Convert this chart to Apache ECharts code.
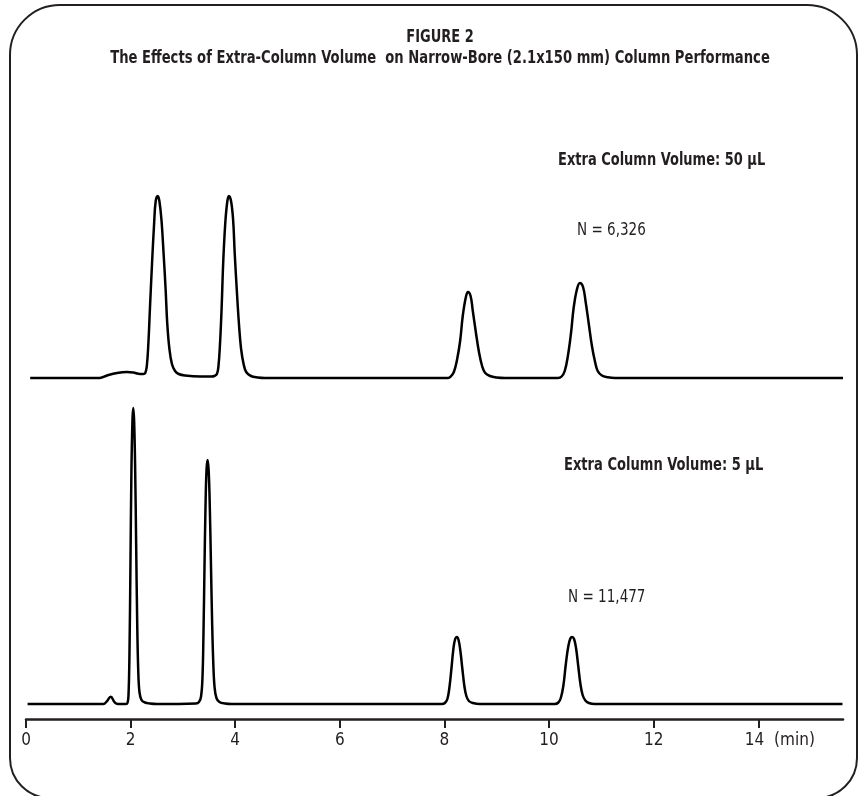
<!DOCTYPE html>
<html><head><meta charset="utf-8">
<script src="https://cdn.jsdelivr.net/npm/echarts@6/dist/echarts.min.js"></script>
<style>html,body{margin:0;padding:0;background:#fff}#c{width:860px;height:796px}</style>
</head><body><div id="c"></div>
<script>
// ---- texts ----
const titleText = 'FIGURE 2';
const subtitleText = 'The Effects of Extra-Column Volume  on Narrow-Bore (2.1x150 mm) Column Performance';
const topLabel = 'Extra Column Volume: 50 µL';
const topN = 'N = 6,326';
const bottomLabel = 'Extra Column Volume: 5 µL';
const bottomN = 'N = 11,477';
const xTicks = [0, 2, 4, 6, 8, 10, 12, 14];
const xUnit = '(min)';
const xMin = 0, xMax = 15.62;

// ---- trace 1: extra column volume 50 µL (time in min, detector signal, arbitrary units) ----
const timeTop = [0.08,1.41,1.55,1.74,1.93,2.05,2.18,2.24,
  2.28,2.31,2.34,2.37,2.41,2.45,2.48,2.52,2.55,2.59,2.63,2.67,2.70,2.74,2.79,2.85,2.92,3.04,3.33,3.55,
  3.60,3.65,3.68,3.71,3.74,3.77,3.81,3.85,3.88,3.92,3.96,3.99,4.03,4.07,4.11,4.16,4.21,4.30,4.43,4.57,
  8.07,8.12,8.18,8.24,8.30,8.35,8.41,8.45,8.50,8.54,8.60,8.66,8.72,8.78,8.87,9.00,9.16,
  10.17,10.24,10.30,10.36,10.42,10.47,10.53,10.59,10.65,10.70,10.76,10.82,10.88,10.93,11.01,11.12,11.26,15.62];
const signalTop = [0,0,2.5,5,6,5.5,4,4,
  5,12,35,70,115,155,177,182,177,158,125,88,55,30,14,7,4,2.5,1.5,1.5,
  2,4,12,35,70,115,155,177,182,177,158,125,88,55,30,14,6,2,0.5,0,
  0,1.5,6,18,37,62,81,86,82,68,46,26,12,5,2,0.5,0,
  0,1.5,7,22,45,70,88,95,91,76,54,32,16,7,2.5,0.8,0,0];

// ---- trace 2: extra column volume 5 µL ----
const timeBottom = [0.03,1.48,1.54,1.62,1.70,1.76,
  1.911,1.940,1.959,1.978,1.997,2.016,2.036,2.051,2.068,2.087,2.106,2.125,2.145,2.169,2.208,2.274,2.370,2.504,
  3.249,3.307,3.345,3.373,3.393,3.412,3.431,3.452,3.473,3.494,3.515,3.536,3.557,3.580,3.605,3.641,3.698,3.803,3.937,
  7.951,8.008,8.056,8.094,8.133,8.171,8.205,8.238,8.270,8.305,8.343,8.381,8.419,8.467,8.544,8.677,
  10.111,10.178,10.225,10.273,10.321,10.369,10.407,10.441,10.478,10.516,10.558,10.600,10.642,10.694,10.761,10.875,15.61];
const signalBottom = [0,0,2.3,7.3,1.3,0,
  0,1,8,50,140,235,285,296,282,235,160,85,35,12,4,1.5,0.5,0,
  0.5,2,7,25,70,135,195,235,244,232,195,140,85,42,17,6,2,0.5,0,
  0,1,5,16,35,55,65,67,64,53,35,18,8,3,1,0,
  0,1.5,6,18,40,58,65.5,67,65,56,38,20,9,3.5,1,0,0];

const zip = (a, b) => a.map((v, i) => [v, b[i]]);
const FONT = "'Liberation Sans Narrow','DejaVu Sans Condensed','Roboto Condensed','Arial Narrow',sans-serif";
const INK = '#231f20';

function label(text, x, y, opts) {
  const align = opts.align || 'left';
  return {
    type: 'text', silent: true, x: x, y: y, scaleX: opts.scaleX || 0.85, scaleY: 1,
    style: {
      text: text, fill: INK, fontFamily: FONT, fontSize: 17,
      fontWeight: opts.bold ? 'bold' : 'normal',
      align: align, verticalAlign: 'middle', textAlign: align, textVerticalAlign: 'middle'
    }
  };
}

const chart = echarts.init(document.getElementById('c'), null, {renderer: 'canvas'});
const lineStyle = {color: '#000', width: 2.5};

chart.setOption({
  animation: false,
  backgroundColor: '#fff',
  graphic: [
    {
      type: 'rect', silent: true,
      shape: {x: 10, y: 5, width: 847, height: 793, r: [50, 50, 40, 40]},
      style: {fill: 'none', stroke: INK, lineWidth: 2}
    },
    label(titleText, 440, 38, {bold: true, align: 'center', scaleX: 0.85}),
    label(subtitleText, 440, 59, {bold: true, align: 'center', scaleX: 0.86}),
    label(topLabel, 558, 161, {bold: true, scaleX: 0.85}),
    label(topN, 577, 231, {scaleX: 0.885}),
    label(bottomLabel, 564, 466, {bold: true, scaleX: 0.855}),
    label(bottomN, 568, 598, {scaleX: 0.886})
  ],
  grid: [
    {left: 26, right: 17, top: 178, height: 220},
    {left: 26, right: 17, top: 404, height: 315}
  ],
  xAxis: [
    {gridIndex: 0, type: 'value', min: xMin, max: xMax, show: false},
    {gridIndex: 1, type: 'value', min: xMin, max: xMax, interval: 2,
     axisLine: {show: true, onZero: false, lineStyle: {color: INK, width: 2.5}},
     axisTick: {show: true, length: 9, customValues: xTicks, lineStyle: {color: INK, width: 2}},
     splitLine: {show: false},
     axisLabel: {
       customValues: xTicks, margin: 13, fontFamily: FONT, fontSize: 17, color: INK,
       formatter: v => v === 14 ? '{pad| }14{u|' + xUnit + '}' : String(v),
       rich: {pad: {width: 43, fontFamily: FONT, fontSize: 17}, u: {padding: [0, 0, 0, 10], fontFamily: FONT, fontSize: 17, color: INK}}
     }}
  ],
  yAxis: [
    {gridIndex: 0, type: 'value', min: -20, max: 200, show: false},
    {gridIndex: 1, type: 'value', min: -15, max: 300, show: false}
  ],
  series: [
    {type: 'line', xAxisIndex: 0, yAxisIndex: 0, data: zip(timeTop, signalTop),
     showSymbol: false, smooth: 0.4, lineStyle: lineStyle, silent: true},
    {type: 'line', xAxisIndex: 1, yAxisIndex: 1, data: zip(timeBottom, signalBottom),
     showSymbol: false, smooth: 0.4, lineStyle: lineStyle, silent: true}
  ]
});
</script>
</body></html>
